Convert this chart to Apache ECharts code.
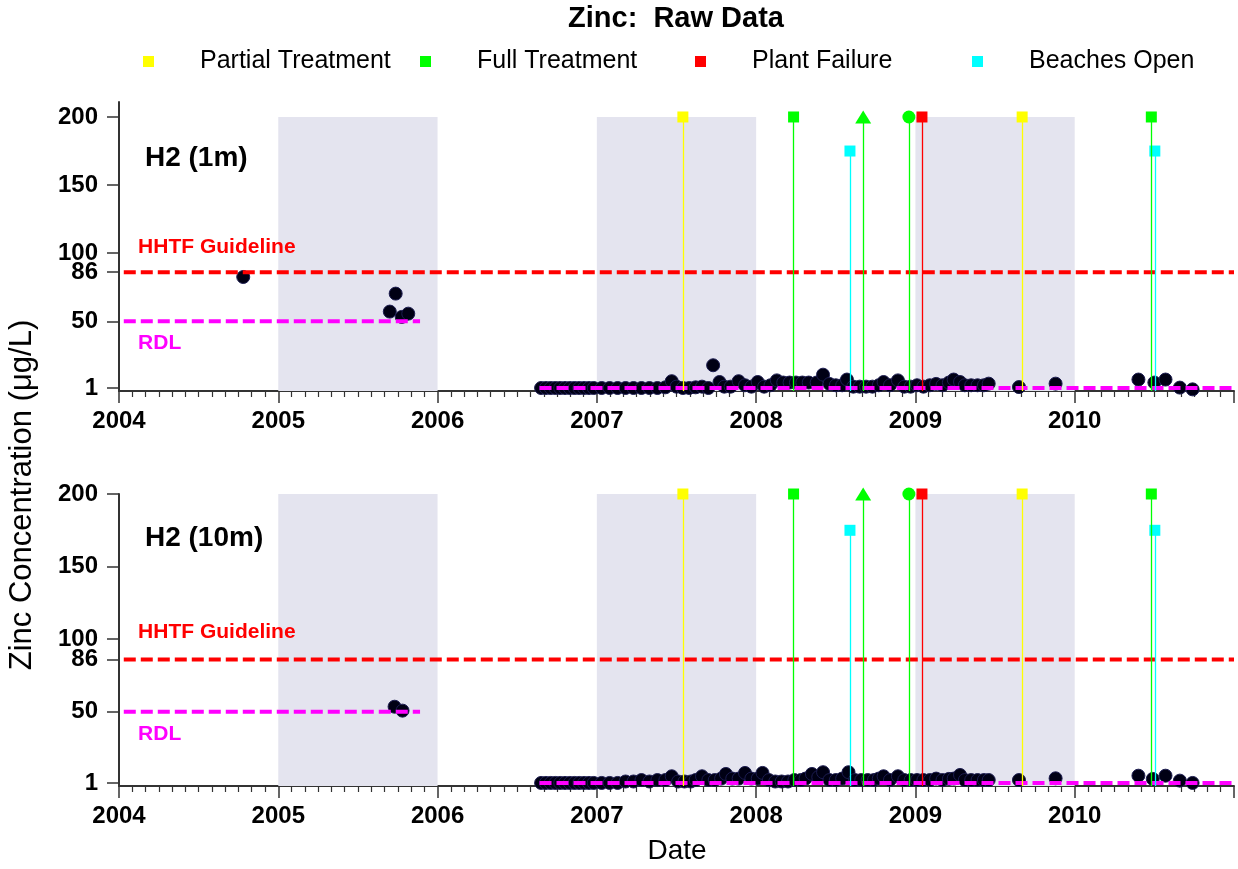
<!DOCTYPE html>
<html>
<head>
<meta charset="utf-8">
<script src="https://cdn.jsdelivr.net/npm/echarts@6/dist/echarts.min.js"></script>
<style>html,body{margin:0;padding:0;background:#fff}#c{width:1238px;height:869px}</style>
</head>
<body>
<div id="c"></div>
<script>
// ---------- DATA ----------
const titleText = 'Zinc:  Raw Data';
const yAxisTitle = 'Zinc Concentration (\u03bcg/L)';
const xAxisTitle = 'Date';
const panelNames = ['H2 (1m)', 'H2 (10m)'];
const yTickValues = [1, 50, 86, 100, 150, 200];
const xMin = 2004, xMax = 2011;

const hhtfGuideline = 86;
const rdlValues = [50, 1];
const rdlStart = [2004.03, 2006.64];
const rdlEnd = [2005.89, 2011];

const bandStarts = [2005, 2007, 2009];
const bandEnds = [2006, 2008, 2010];
const bandTop = 200;

const eventNames = ['Partial Treatment', 'Full Treatment', 'Plant Failure', 'Beaches Open'];
const partialDates = [2007.54, 2009.67];
const partialVals = [200, 200];
const partialSymbols = ['rect', 'rect'];
const fullDates = [2008.235, 2008.672, 2008.959, 2010.481];
const fullVals = [200, 200, 200, 200];
const fullSymbols = ['rect', 'triangle', 'circle', 'rect'];
const failureDates = [2009.041];
const failureVals = [200];
const failureSymbols = ['rect'];
const beachDates = [2008.589, 2010.503];
const beachVals = [175, 175];
const beachSymbols = ['rect', 'rect'];

// H2 (1m)
const h1Dates = [2004.78, 2005.70, 2005.737, 2005.775, 2005.816,
  2006.65, 2006.68, 2006.71, 2006.74, 2006.77, 2006.80, 2006.83, 2006.86, 2006.89, 2006.92, 2006.95, 2006.98,
  2007.03, 2007.08, 2007.13, 2007.18, 2007.23, 2007.28, 2007.33, 2007.38, 2007.43, 2007.47, 2007.50, 2007.54,
  2007.58, 2007.62, 2007.66, 2007.70, 2007.73, 2007.77, 2007.80, 2007.84, 2007.89, 2007.93, 2007.97,
  2008.01, 2008.05, 2008.09, 2008.13, 2008.17, 2008.21, 2008.25, 2008.29, 2008.33, 2008.38, 2008.42, 2008.46,
  2008.50, 2008.54, 2008.57, 2008.61, 2008.65, 2008.69, 2008.73, 2008.77, 2008.80, 2008.84, 2008.89, 2008.93,
  2008.97, 2009.01, 2009.05, 2009.09, 2009.13, 2009.17, 2009.21, 2009.24, 2009.28, 2009.31, 2009.35, 2009.39,
  2009.43, 2009.46, 2009.65, 2009.88, 2010.40, 2010.50, 2010.57, 2010.66, 2010.74];
const h1Vals = [82.5, 57.1, 70.3, 53.2, 55.6,
  1, 1, 1, 1, 1, 1, 1, 1, 1, 1, 1, 1,
  1, 1, 1, 1, 1, 1, 1, 1, 1.5, 6, 2, 1,
  1, 1.5, 2, 1, 17.7, 5.4, 2, 2, 6, 3, 2,
  5.4, 2, 3, 6.6, 5, 5, 5, 5, 5, 5, 10.8, 4,
  3, 3, 7.2, 2, 2, 2, 2, 3, 5.4, 3, 6.6, 2,
  2, 3, 2, 3, 4, 3, 5, 7.2, 5.4, 3, 3, 3,
  3, 4.2, 1.7, 4.2, 7.2, 5, 7.2, 1.3, 0];

// H2 (10m)
const h10Dates = [2005.73, 2005.78,
  2006.65, 2006.68, 2006.71, 2006.74, 2006.77, 2006.80, 2006.83, 2006.86, 2006.89, 2006.92, 2006.95, 2006.98,
  2007.03, 2007.08, 2007.13, 2007.18, 2007.23, 2007.28, 2007.33, 2007.38, 2007.43, 2007.47, 2007.51, 2007.55,
  2007.59, 2007.62, 2007.66, 2007.70, 2007.74, 2007.78, 2007.81, 2007.85, 2007.89, 2007.93, 2007.97,
  2008.01, 2008.04, 2008.08, 2008.12, 2008.16, 2008.20, 2008.24, 2008.28, 2008.31, 2008.35, 2008.39, 2008.42,
  2008.46, 2008.50, 2008.54, 2008.58, 2008.62, 2008.66, 2008.70, 2008.74, 2008.77, 2008.80, 2008.84, 2008.89,
  2008.93, 2008.97, 2009.01, 2009.05, 2009.09, 2009.13, 2009.17, 2009.21, 2009.24, 2009.28, 2009.31, 2009.35,
  2009.39, 2009.43, 2009.46, 2009.65, 2009.88, 2010.40, 2010.49, 2010.57, 2010.66, 2010.74];
const h10Vals = [53.5, 50.8,
  1, 1, 1, 1, 1, 1, 1, 1, 1, 1, 1, 1,
  1, 1, 1, 2, 2, 3, 2, 3, 3, 5.6, 2, 2,
  2, 3, 5.6, 3, 3, 4, 7.2, 4, 4, 7.9, 4,
  4, 7.9, 3, 2, 2, 2, 3, 3, 4, 7.2, 5, 8.4,
  3, 3, 4, 8.4, 3, 3, 3, 3, 4, 5.6, 3, 5.6,
  3, 3, 3, 3, 3, 4, 3, 3.8, 4, 6.5, 3, 3,
  3, 3, 3, 3, 4.2, 6, 3.8, 6, 2.6, 1];

// annotation anchor points (data coordinates)
const labelX = 2004.12;
const panelLabelX = 2004.163;
const panelLabelY = [169.4, 169.5];
const hhtfLabelY = [104.5, 104.8];
const rdlLabelY = [33.6, 34.3];

// ---------- STYLE / LAYOUT ----------
const FONT = 'Arial, "Liberation Sans", sans-serif';
const yRanges = [[-1.2, 211], [-1.1, 200]];
const grids = [
  {left: 119, right: 4, top: 102, height: 289},
  {left: 119, right: 4, top: 494, height: 292}
];
const eventColors = ['#ffff00', '#00ff00', '#ff0000', '#00ffff'];
const symbolSizes = {rect: 11, triangle: [16, 13], circle: 13};
const legendLefts = [138, 415, 690, 967];

const eventSets = [
  [partialDates, partialVals, partialSymbols],
  [fullDates, fullVals, fullSymbols],
  [failureDates, failureVals, failureSymbols],
  [beachDates, beachVals, beachSymbols]
];
const panelData = [[h1Dates, h1Vals], [h10Dates, h10Vals]];

const xAxes = [], yAxes = [], series = [];
for (let g = 0; g < 2; g++) {
  xAxes.push({
    gridIndex: g, type: 'value', min: xMin, max: xMax, interval: 1,
    axisLine: {show: true, onZero: false, lineStyle: {color: '#333', width: 2}},
    axisTick: {show: true, length: 12, lineStyle: {color: '#333', width: 1.5}},
    minorTick: {show: true, splitNumber: 12, length: 6, lineStyle: {color: '#333', width: 1.2}},
    splitLine: {show: false}, minorSplitLine: {show: false},
    axisLabel: {show: true, margin: 18, showMaxLabel: false, fontFamily: FONT, fontSize: 24, fontWeight: 'bold', color: '#000',
      formatter: v => String(Math.round(v))}
  });
  yAxes.push({
    gridIndex: g, type: 'value', min: yRanges[g][0], max: yRanges[g][1],
    axisLine: {show: true, onZero: false, lineStyle: {color: '#333', width: 2}},
    axisTick: {show: true, length: 12, customValues: yTickValues, lineStyle: {color: '#333', width: 1.5}},
    axisLabel: {show: true, customValues: yTickValues, margin: 21, fontFamily: FONT, fontSize: 24, fontWeight: 'bold', color: '#000'},
    splitLine: {show: false}
  });

  // shaded bands
  series.push({
    type: 'line', xAxisIndex: g, yAxisIndex: g, data: [], silent: true, z: 1,
    markArea: {silent: true, itemStyle: {color: '#e4e4ef', opacity: 1},
      data: bandStarts.map((s, i) => [{coord: [s, yRanges[g][0]]}, {coord: [bandEnds[i], bandTop]}])}
  });

  // events: vertical lines + markers
  eventSets.forEach((set, k) => {
    const [dates, vals, syms] = set;
    series.push({
      type: 'scatter', name: eventNames[k], xAxisIndex: g, yAxisIndex: g, z: 2, silent: true,
      itemStyle: {color: eventColors[k], opacity: 1},
      data: dates.map((d, i) => ({value: [d, vals[i]], symbol: syms[i], symbolSize: symbolSizes[syms[i]]})),
      markLine: {silent: true, symbol: ['none', 'none'], label: {show: false},
        lineStyle: {color: eventColors[k], width: 1.3, type: 'solid', opacity: 1},
        data: dates.map((d, i) => [{coord: [d, yRanges[g][0]]}, {coord: [d, vals[i]]}])}
    });
  });

  // measured data
  const [ds, vs] = panelData[g];
  series.push({
    type: 'scatter', name: panelNames[g], xAxisIndex: g, yAxisIndex: g, z: 3, silent: true,
    symbol: 'circle', symbolSize: 13,
    itemStyle: {color: '#000014', borderColor: '#1c1c50', borderWidth: 1, opacity: 1},
    data: ds.map((d, i) => [d, vs[i]])
  });

  // reference lines
  series.push({
    type: 'line', xAxisIndex: g, yAxisIndex: g, z: 4, silent: true, showSymbol: false, symbol: 'none',
    lineStyle: {color: '#ff0000', width: 4, type: [12, 5], opacity: 1},
    data: [[rdlStart[0], hhtfGuideline], [xMax, hhtfGuideline]]
  });
  rdlValues.forEach((v, i) => {
    series.push({
      type: 'line', xAxisIndex: g, yAxisIndex: g, z: 4, silent: true, showSymbol: false, symbol: 'none',
      lineStyle: {color: '#ff00ff', width: 4, type: [12, 5], opacity: 1},
      data: [[rdlStart[i], v], [rdlEnd[i], v]]
    });
  });

  // annotations
  series.push({
    type: 'scatter', xAxisIndex: g, yAxisIndex: g, z: 5, silent: true, symbolSize: 0,
    itemStyle: {opacity: 1},
    label: {show: true, position: 'right', distance: 0, fontFamily: FONT, opacity: 1},
    data: [
      {value: [panelLabelX, panelLabelY[g]], label: {formatter: panelNames[g], color: '#000', fontSize: 28, fontWeight: 'bold'}},
      {value: [labelX, hhtfLabelY[g]], label: {formatter: 'HHTF Guideline', color: '#ff0000', fontSize: 21, fontWeight: 'bold'}},
      {value: [labelX, rdlLabelY[g]], label: {formatter: 'RDL', color: '#ff00ff', fontSize: 21, fontWeight: 'bold'}}
    ]
  });
}

const legends = eventNames.map((n, k) => ({
  data: [n], left: legendLefts[k], top: 44, icon: 'rect', itemWidth: 11, itemHeight: 11, itemGap: 0,
  selectedMode: false,
  textStyle: {fontFamily: FONT, fontSize: 25, color: '#000', padding: [0, 0, 0, 41]}
}));

const chart = echarts.init(document.getElementById('c'), null, {renderer: 'canvas'});
chart.setOption({
  backgroundColor: '#fff',
  animation: false,
  grid: grids,
  xAxis: xAxes,
  yAxis: yAxes,
  legend: legends,
  series: series,
  graphic: [
    {type: 'text', x: 676, y: 19, style: {text: titleText, font: 'bold 29px ' + FONT, fill: '#000', textAlign: 'center', textVerticalAlign: 'middle'}},
    {type: 'text', x: 22, y: 495, rotation: Math.PI / 2, style: {text: yAxisTitle, font: '31px ' + FONT, fill: '#000', textAlign: 'center', textVerticalAlign: 'middle'}},
    {type: 'text', x: 677, y: 851, style: {text: xAxisTitle, font: '28px ' + FONT, fill: '#000', textAlign: 'center', textVerticalAlign: 'middle'}}
  ]
});
</script>
</body>
</html>
